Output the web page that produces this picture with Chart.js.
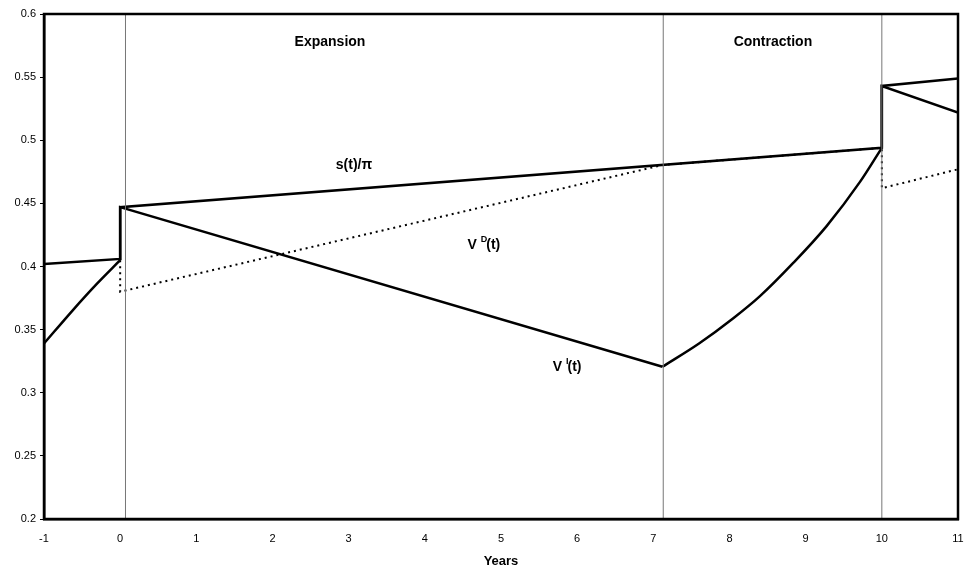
<!DOCTYPE html>
<html lang="en">
<head>
  <meta charset="UTF-8">
  <title>Expansion / Contraction</title>
  <script src="https://cdn.jsdelivr.net/npm/chart.js"></script>
  <style>
    body {
      margin: 0;
      background: #fff;
    }
    #chart-container {
      width: 965px;
      height: 569px;
    }
  </style>
</head>
<body>
  <div id="chart-container">
    <canvas id="cycleChart"></canvas>
  </div>

  <script>
    // Values (t in years, value on y axis)
    const sT = [-1, 0, 0, 10, 10, 11];
    const sV = [0.402, 0.406, 0.447, 0.494, 0.543, 0.549];

    // V^I(t), split so the curved parts can be smoothed
    const vILeftT = [-1, -0.62, -0.31, 0];
    const vILeftV = [0.339, 0.3655, 0.386, 0.405];
    const vIFallT = [0, 0, 7.12];
    const vIFallV = [0.405, 0.447, 0.3206];
    const vIRiseT = [7.12, 7.6, 8.05, 8.4, 8.84, 9.275, 9.713, 10];
    const vIRiseV = [0.3206, 0.339, 0.359, 0.3765, 0.403, 0.432, 0.467, 0.494];
    const vIEndT = [10, 10, 11];
    const vIEndV = [0.494, 0.543, 0.522];

    const vDT = [0, 0, 7.13, 10, 10, 11];
    const vDV = [0.405, 0.380, 0.4805, 0.494, 0.462, 0.477];

    // vertical phase markers
    const phaseLines = [0.07, 7.13, 10];

    // text labels on the plot
    const textLabels = [
      { parts: [["Expansion", false]], t: 2.755, v: 0.578, align: "center" },
      { parts: [["Contraction", false]], t: 8.57, v: 0.578, align: "center" },
      { parts: [["s(t)/\u03c0", false]], t: 3.07, v: 0.480, align: "center" },
      { parts: [["V ", false], ["D", true], ["(t)", false]], t: 4.56, v: 0.417, align: "left" },
      { parts: [["V ", false], ["I", true], ["(t)", false]], t: 5.68, v: 0.320, align: "left" }
    ];

    const xTicks = [-1, 0, 1, 2, 3, 4, 5, 6, 7, 8, 9, 10, 11];
    const yTicks = [0.2, 0.25, 0.3, 0.35, 0.4, 0.45, 0.5, 0.55, 0.6];

    const FONT = "'Liberation Sans', Arial, sans-serif";

    function toPoints(ts, vs) {
      return ts.map((t, i) => ({ x: t, y: vs[i] }));
    }

    function solid(ts, vs, smooth) {
      return {
        data: toPoints(ts, vs),
        borderColor: "#000",
        borderWidth: 2.5,
        pointRadius: 0,
        cubicInterpolationMode: smooth ? "monotone" : "default",
        tension: 0
      };
    }

    const datasets = phaseLines.map(t => ({
      data: [{ x: t, y: yTicks[0] }, { x: t, y: yTicks[yTicks.length - 1] }],
      borderColor: "#777",
      borderWidth: 1,
      pointRadius: 0
    }));

    datasets.push({
      data: toPoints(vDT, vDV),
      borderColor: "#000",
      borderWidth: 2,
      borderDash: [2, 4],
      pointRadius: 0
    });
    datasets.push(solid(vILeftT, vILeftV, true));
    datasets.push(solid(vIFallT, vIFallV, false));
    datasets.push(solid(vIRiseT, vIRiseV, true));
    datasets.push(solid(vIEndT, vIEndV, false));
    datasets.push(solid(sT, sV, false));

    // frame round the plot area and the text labels
    const framePlugin = {
      id: "frame",
      afterDatasetsDraw(chart) {
        const { ctx, chartArea: a, scales } = chart;
        ctx.save();
        ctx.strokeStyle = "#000";
        ctx.lineWidth = 2.5;
        ctx.strokeRect(a.left, a.top, a.right - a.left, a.bottom - a.top);

        ctx.fillStyle = "#000";
        ctx.textBaseline = "middle";
        textLabels.forEach(lbl => {
          const big = "bold 14px " + FONT;
          const small = "bold 9px " + FONT;
          let width = 0;
          lbl.parts.forEach(p => {
            ctx.font = p[1] ? small : big;
            width += ctx.measureText(p[0]).width;
          });
          let x = scales.x.getPixelForValue(lbl.t);
          const y = scales.y.getPixelForValue(lbl.v);
          if (lbl.align === "center") x -= width / 2;
          lbl.parts.forEach(p => {
            ctx.font = p[1] ? small : big;
            ctx.textAlign = "left";
            ctx.fillText(p[0], x, p[1] ? y - 6 : y);
            x += ctx.measureText(p[0]).width - (p[1] ? 1 : 0);
          });
        });
        ctx.restore();
      }
    };

    new Chart(document.getElementById("cycleChart"), {
      type: "line",
      data: { datasets: datasets },
      options: {
        responsive: true,
        maintainAspectRatio: false,
        animation: false,
        layout: { padding: { top: 14, right: 7, left: 0, bottom: 0 } },
        plugins: {
          legend: { display: false },
          tooltip: { enabled: false }
        },
        scales: {
          x: {
            type: "linear",
            min: xTicks[0],
            max: xTicks[xTicks.length - 1],
            afterBuildTicks: scale => { scale.ticks = xTicks.map(v => ({ value: v })); },
            afterFit: scale => {
              scale.height = 50;
              scale.paddingLeft = 0;
              scale.paddingRight = 0;
            },
            grid: { display: false },
            border: { display: true, color: "#000", width: 2.5 },
            ticks: {
              color: "#000",
              padding: 5,
              maxRotation: 0,
              font: { family: FONT, size: 11 }
            },
            title: {
              display: true,
              text: "Years",
              color: "#000",
              padding: { top: 4, bottom: 0 },
              font: { family: FONT, size: 13, weight: "bold" }
            }
          },
          y: {
            type: "linear",
            min: yTicks[0],
            max: yTicks[yTicks.length - 1],
            afterBuildTicks: scale => { scale.ticks = yTicks.map(v => ({ value: v })); },
            afterFit: scale => { scale.width = 44; },
            grid: {
              drawOnChartArea: false,
              drawTicks: true,
              tickLength: 4,
              color: "#000"
            },
            border: { display: true, color: "#000", width: 2.5 },
            ticks: {
              color: "#000",
              padding: 4,
              font: { family: FONT, size: 11 },
              callback: v => String(Number(v.toFixed(2)))
            }
          }
        }
      },
      plugins: [framePlugin]
    });
  </script>
</body>
</html>
